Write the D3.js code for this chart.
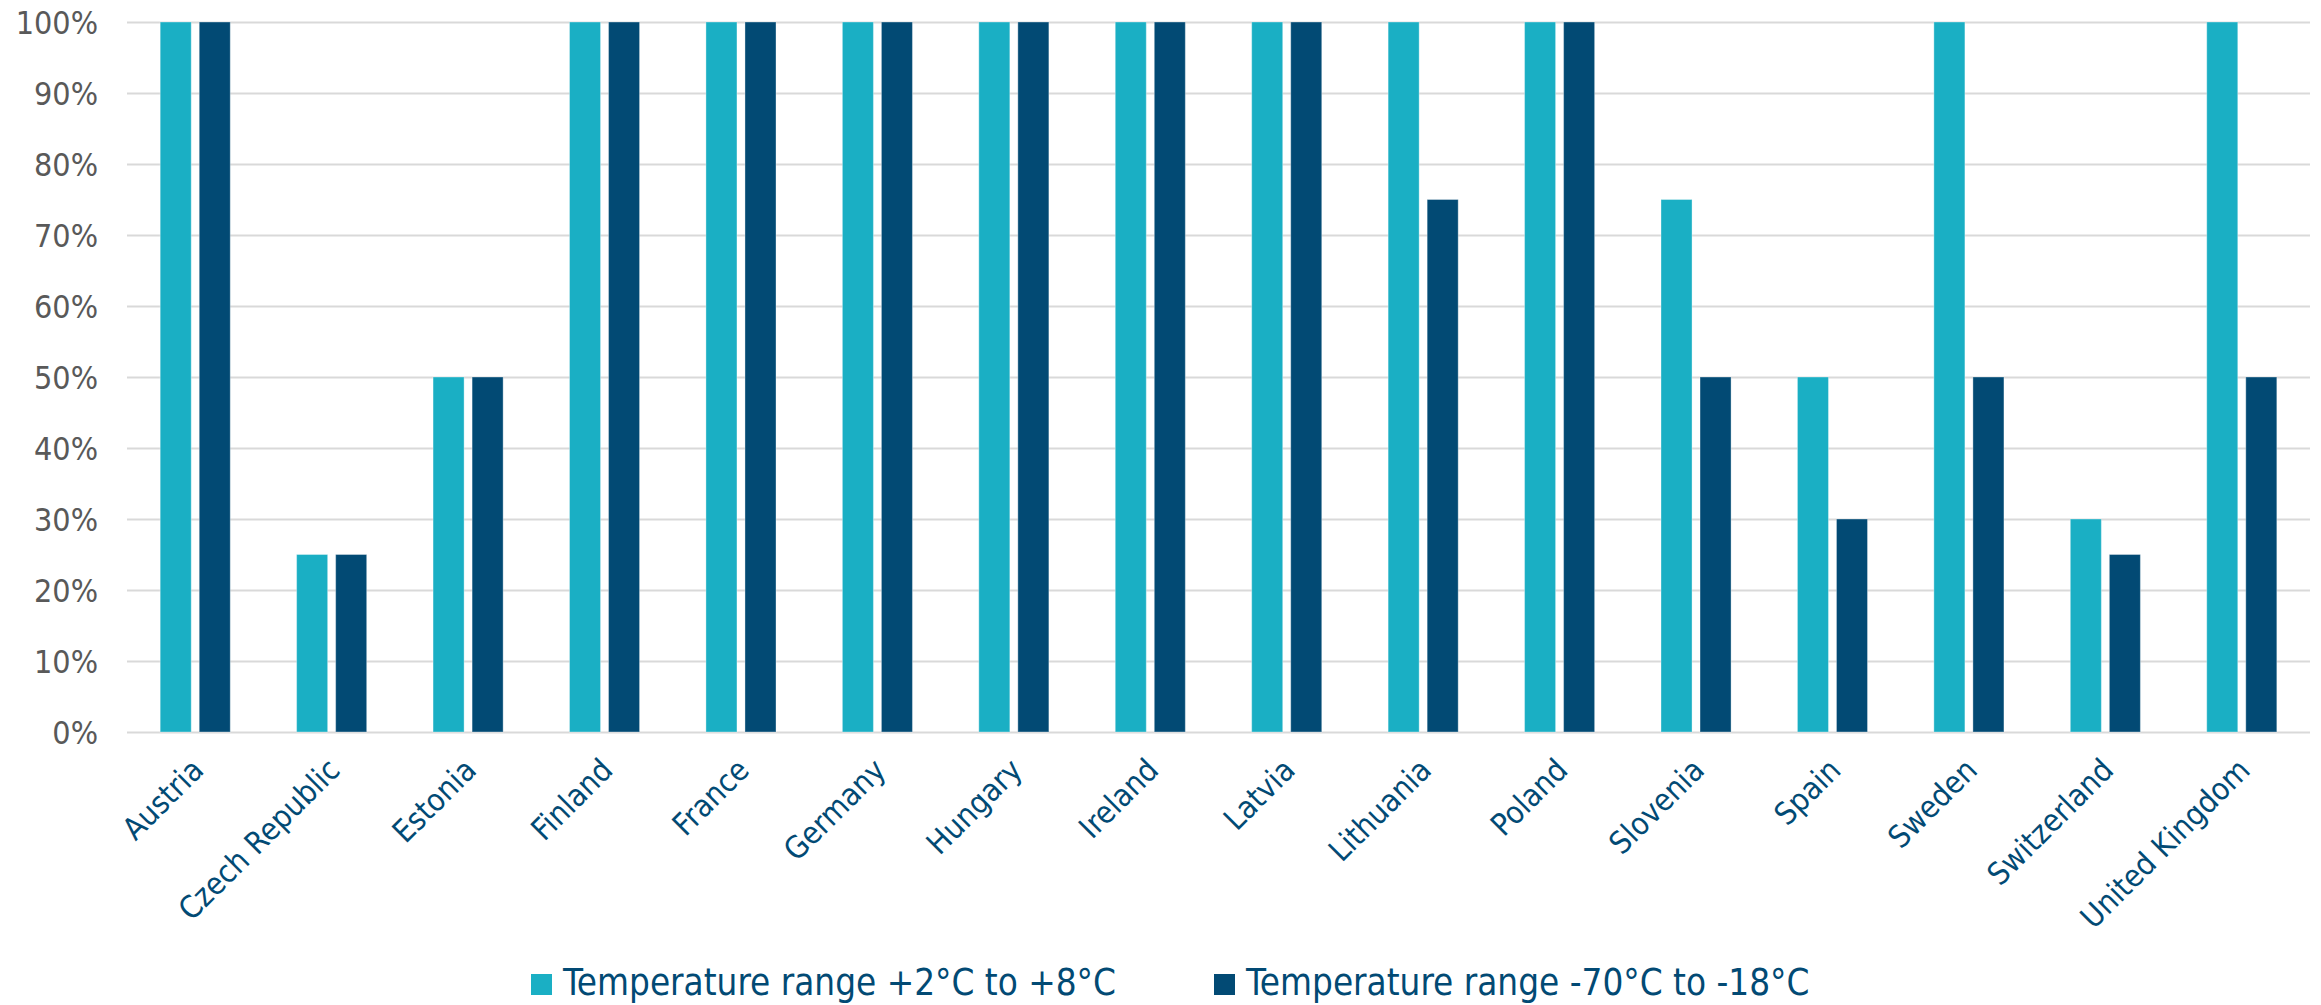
<!DOCTYPE html>
<html><head><meta charset="utf-8">
<script src="https://cdn.jsdelivr.net/npm/d3@7"></script>
<style>
html,body{margin:0;padding:0;background:#fff;}
svg{display:block;}
</style></head>
<body>
<svg id="chart" width="2321" height="1005"></svg>
<script>
const categories = ["Austria","Czech Republic","Estonia","Finland","France","Germany","Hungary","Ireland","Latvia","Lithuania","Poland","Slovenia","Spain","Sweden","Switzerland","United Kingdom"];
const seriesNames = ["Temperature range +2°C to +8°C","Temperature range -70°C to -18°C"];
const chilled = [1.00,0.25,0.50,1.00,1.00,1.00,1.00,1.00,1.00,1.00,1.00,0.75,0.50,1.00,0.30,1.00];
const frozen  = [1.00,0.25,0.50,1.00,1.00,1.00,1.00,1.00,1.00,0.75,1.00,0.50,0.30,0.50,0.25,0.50];
const yTicks = [0,0.1,0.2,0.3,0.4,0.5,0.6,0.7,0.8,0.9,1.0];
const colors = ["#1AAFC4","#024A74"];

const FONT = "'DejaVu Sans Condensed','DejaVu Sans',Verdana,sans-serif";
const svg = d3.select("#chart");
const M = {left:127, right:2310, top:22, bottom:732};

const x = d3.scaleBand().domain(categories).range([M.left, M.right]).paddingInner(0).paddingOuter(0);
const y = d3.scaleLinear().domain([0,1]).range([M.bottom, M.top]);
const xs = d3.scaleBand().domain([0,1]).range([0, x.bandwidth()]).paddingInner(0.205).paddingOuter(0.85);

// gridlines
const yAxis = d3.axisLeft(y).tickValues(yTicks).tickSize(-(M.right-M.left)).tickFormat(d3.format(".0%"));
const ga = svg.append("g").attr("transform",`translate(${M.left},0)`).call(yAxis);
ga.select(".domain").remove();
ga.selectAll(".tick line").attr("stroke","#D9D9D9").attr("stroke-width",2);
ga.selectAll(".tick text").attr("x",-29).attr("dy","0.36em")
  .attr("fill","#595959").style("font-family",FONT).style("font-size","32px");

// bars
const data = categories.map((c,i)=>({c, v:[chilled[i],frozen[i]]}));
const groups = svg.append("g").selectAll("g").data(data).join("g")
  .attr("transform",d=>`translate(${x(d.c)},0)`);
groups.selectAll("rect").data(d=>d.v.map((v,k)=>({v,k}))).join("rect")
  .attr("x",d=>xs(d.k)).attr("width",xs.bandwidth())
  .attr("y",d=>y(d.v)).attr("height",d=>y(0)-y(d.v))
  .attr("fill",d=>colors[d.k]).attr("stroke","#ffffff").attr("stroke-opacity",0.35).attr("stroke-width",1);

// x labels
const xAxis = d3.axisBottom(x).tickSize(0).tickPadding(0);
const gx = svg.append("g").attr("transform",`translate(0,${M.bottom})`).call(xAxis);
gx.select(".domain").remove();
gx.selectAll(".tick text")
  .attr("text-anchor","end").attr("y",0).attr("dy",0)
  .attr("transform","translate(10,40) rotate(-45)")
  .attr("fill","#024A74").style("font-family",FONT).style("font-size","31px");

// legend
const legend = svg.append("g");
const legendX = [531, 1214];
seriesNames.forEach((s,i)=>{
  const g = legend.append("g").attr("transform",`translate(${legendX[i]},974)`);
  g.append("rect").attr("width",21).attr("height",21).attr("fill",colors[i]);
  g.append("text").attr("x",32).attr("y",21).text(s)
    .attr("fill","#024A74").style("font-family",FONT).style("font-size","36.5px");
});
</script>
</body></html>
